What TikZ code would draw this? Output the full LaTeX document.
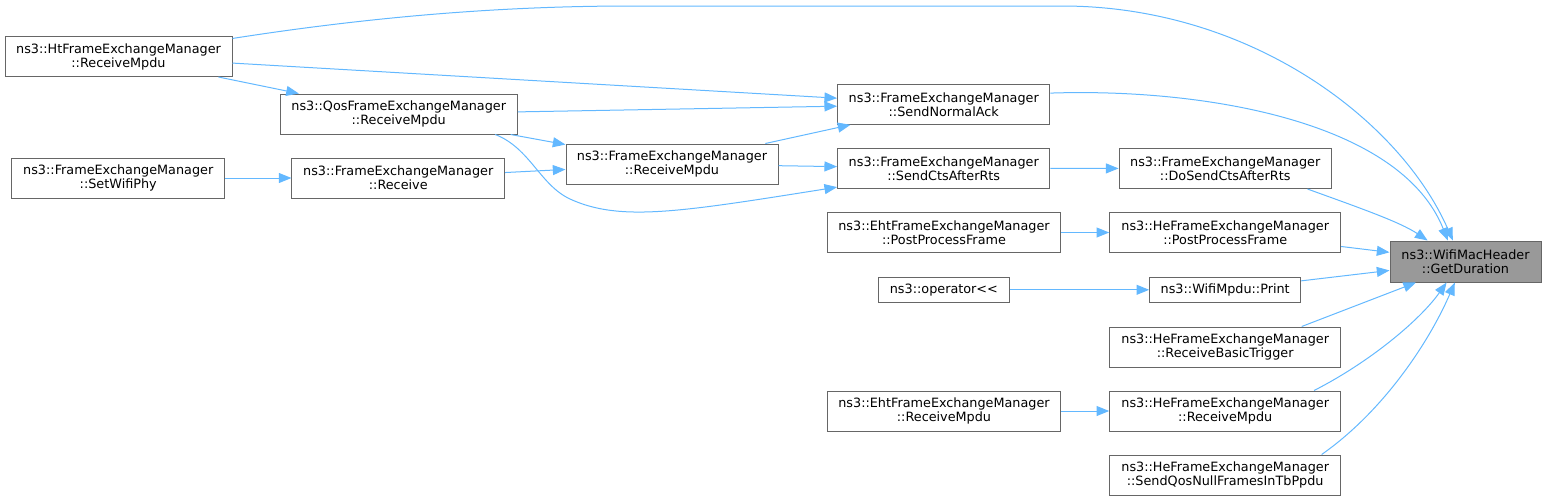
\documentclass[tikz,border=0pt]{standalone}
\usepackage{fontspec}
\setmainfont{DejaVu Sans}
\usetikzlibrary{arrows.meta}
\definecolor{edgeblue}{HTML}{63B8FF}
\definecolor{boxgray}{HTML}{666666}
\definecolor{hlgray}{HTML}{999999}
\begin{document}
\begin{tikzpicture}[x=0.75pt,y=-0.75pt]
    \tikzstyle{fn}=[draw=boxgray, line width=0.75pt, inner sep=0pt, minimum height=30pt, align=center, font=\fontsize{9.6}{10.5}\selectfont]
    \tikzstyle{call}=[draw=edgeblue, line width=0.75pt, -{Triangle[length=9.5pt,width=7.5pt]}]
    \useasboundingbox (0,0) rectangle (1547,501);
    \node[fn, minimum width=170.25pt] (ht) at (118.5,56.5) {ns3::HtFrameExchangeManager\\::ReceiveMpdu};
    \node[fn, minimum width=178.1pt] (qos) at (398.75,114) {ns3::QosFrameExchangeManager\\::ReceiveMpdu};
    \node[fn, minimum width=159.4pt] (swp) at (118.25,178) {ns3::FrameExchangeManager\\::SetWifiPhy};
    \node[fn, minimum width=159.4pt] (rcv) at (398.25,178) {ns3::FrameExchangeManager\\::Receive};
    \node[fn, minimum width=159pt] (fem) at (672,164) {ns3::FrameExchangeManager\\::ReceiveMpdu};
    \node[fn, minimum width=159.2pt] (sna) at (943.75,104.3) {ns3::FrameExchangeManager\\::SendNormalAck};
    \node[fn, minimum width=159.2pt] (sca) at (943.75,168.3) {ns3::FrameExchangeManager\\::SendCtsAfterRts};
    \node[fn, minimum width=175pt] (ehtp) at (944,232.5) {ns3::EhtFrameExchangeManager\\::PostProcessFrame};
    \node[fn, minimum width=98.1pt, minimum height=18.75pt] (op) at (943.9,289.8) {ns3::operator<{}<};
    \node[fn, minimum width=175pt] (ehtr) at (944,411) {ns3::EhtFrameExchangeManager\\::ReceiveMpdu};
    \node[fn, minimum width=159.2pt] (dsc) at (1225.2,168.5) {ns3::FrameExchangeManager\\::DoSendCtsAfterRts};
    \node[fn, minimum width=173.25pt] (hep) at (1225.2,232.5) {ns3::HeFrameExchangeManager\\::PostProcessFrame};
    \node[fn, minimum width=113.25pt, minimum height=18.75pt] (prt) at (1225.2,289.8) {ns3::WifiMpdu::Print};
    \node[fn, minimum width=173.25pt] (hrb) at (1225.2,347) {ns3::HeFrameExchangeManager\\::ReceiveBasicTrigger};
    \node[fn, minimum width=173.25pt] (hrm) at (1225.2,411) {ns3::HeFrameExchangeManager\\::ReceiveMpdu};
    \node[fn, minimum width=173.25pt] (hsq) at (1225.2,475) {ns3::HeFrameExchangeManager\\::SendQosNullFramesInTbPpdu};
    \node[fn, fill=hlgray, minimum width=113.25pt, minimum height=30.75pt] (gd) at (1465.5,261.5) {ns3::WifiMacHeader\\::GetDuration};
    % callers on the left
    \draw[call] (swp) -- (rcv);
    \draw[call] (ht) -- (qos);
    \draw[call] (ht) -- (sna);
    \draw[call] (qos) -- (sna);
    \draw[call] (qos) -- (fem);
    \draw[call] (qos.-12) .. controls (530,148) and (540,185) .. (570,199) .. controls (620,222) and (680,212) .. (sca.190);
    \draw[call] (rcv) -- (fem);
    \draw[call] (fem) -- (sna);
    \draw[call] (fem) -- (sca);
    \draw[call] (sca) -- (dsc);
    \draw[call] (ehtp) -- (hep);
    \draw[call] (op) -- (prt);
    \draw[call] (ehtr) -- (hrm);
    % into GetDuration
    \draw[call] (ht.9) .. controls (370,17) and (500,6) .. (631,6) -- (1062,6) .. controls (1250,6) and (1400,120) .. (gd.121);
    \draw[call] (sna.6) .. controls (1200,88) and (1400,120) .. (gd.130);
    \draw[call] (dsc.-14) .. controls (1360,208) and (1400,222) .. (gd.151);
    \draw[call] (hep) -- (gd);
    \draw[call] (prt) -- (gd);
    \draw[call] (hrb.15) -- (gd.203);
    \draw[call] (hrm.13) .. controls (1370,362) and (1420,320) .. (gd.228);
    \draw[call] (hsq.12) .. controls (1385,410) and (1430,340) .. (gd.243);
\end{tikzpicture}
\end{document}
